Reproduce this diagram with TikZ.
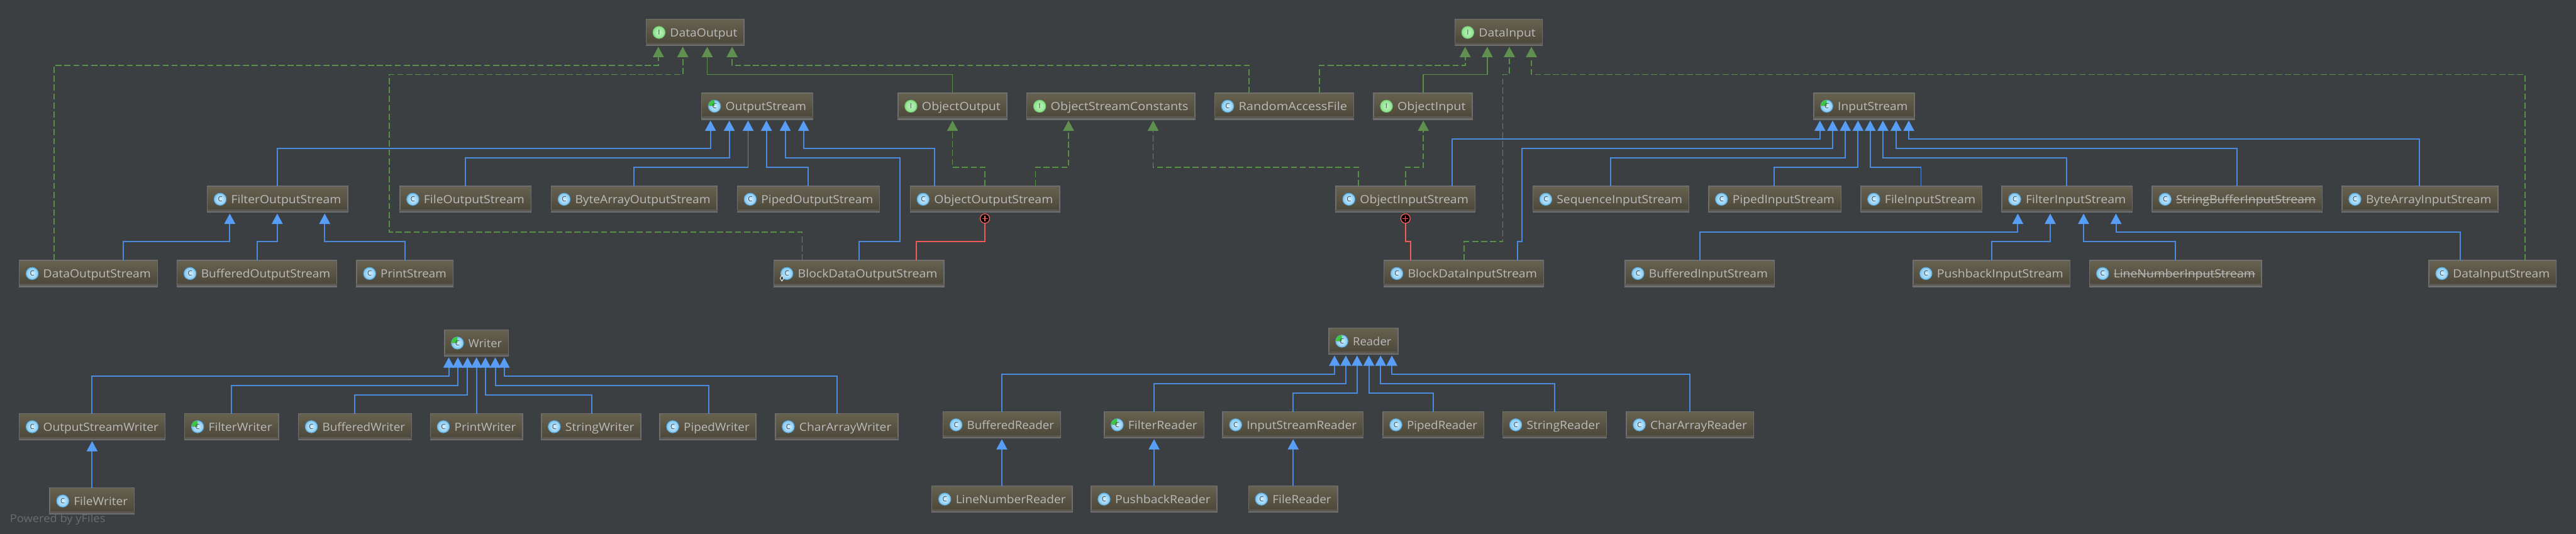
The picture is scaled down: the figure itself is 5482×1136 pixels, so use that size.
\documentclass[tikz,border=0pt]{standalone}
\usepackage{fontspec}
\usepackage{graphicx}
\setmainfont{Open Sans}
\usetikzlibrary{arrows.meta,calc}
\definecolor{bgc}{HTML}{3C3F41}
\definecolor{boxtop}{HTML}{676150}
\definecolor{boxbot}{HTML}{4A4638}
\definecolor{boxedge}{HTML}{6F6F6F}
\definecolor{boxband}{HTML}{5A5850}
\definecolor{labelc}{HTML}{BBBBBB}
\definecolor{lineblue}{HTML}{4A8BDD}
\definecolor{tipblue}{HTML}{589DF6}
\definecolor{linegreen}{HTML}{5A8F48}
\definecolor{tipgreen}{HTML}{5F9050}
\definecolor{linered}{HTML}{F05A5A}
\definecolor{yfilesc}{HTML}{6A6C6E}
\definecolor{icblue}{HTML}{5AAADC}
\definecolor{icbluein}{HTML}{D6F0FD}
\definecolor{icblueout}{HTML}{82C8F2}
\definecolor{icgreen}{HTML}{6EC86E}
\definecolor{icgreenin}{HTML}{BEF5BE}
\definecolor{icgreenout}{HTML}{8CE18C}
\definecolor{icletter}{HTML}{3C4854}
\definecolor{icpie}{HTML}{3CC83C}
\definecolor{icrule}{HTML}{96A5AF}
\tikzset{
  classbox/.style={draw=boxedge,line width=2pt,top color=boxtop,bottom color=boxbot,minimum height=56pt,inner sep=0pt,outer sep=0pt},
  classtext/.style={text=labelc,inner sep=0pt,outer sep=0pt,font=\fontsize{24}{30}\selectfont},
  iconbase/.style={circle,minimum size=26pt,inner sep=0pt,outer sep=0pt,line width=1.4pt},
  iconclass/.style={iconbase,draw=icblue,inner color=icbluein,outer color=icblueout},
  iconiface/.style={iconbase,draw=icgreen,inner color=icgreenin,outer color=icgreenout},
  iconletter/.style={inner sep=0pt,outer sep=0pt,text=icletter,font=\fontsize{15}{18}\selectfont},
  inh/.style={draw=lineblue,line width=2.6pt,shorten >=2.5pt,-{Triangle[length=22pt,width=23pt,fill=tipblue,color=tipblue]}},
  impl/.style={draw=linegreen,line width=2.4pt,shorten >=2.5pt,dash pattern=on 13pt off 6pt,-{Triangle[length=22pt,width=23pt,fill=tipgreen,color=tipgreen]}},
  ext/.style={draw=linegreen,line width=2.4pt,shorten >=2.5pt,-{Triangle[length=22pt,width=23pt,fill=tipgreen,color=tipgreen]}},
  innerlink/.style={draw=linered,line width=2.6pt},
  plusmark/.style={circle,draw=linered,fill=black,line width=1.8pt,minimum size=20pt,inner sep=0pt,outer sep=0pt},
}
% a class box: name, x-left, x-right, y-top, label, kind (C/I/A)
\newcommand{\cls}[6]{%
  \pgfmathsetlengthmacro{\bw}{#3-#2}%
  \pgfmathsetlengthmacro{\tw}{#3-#2-65}%
  \node[classbox,minimum width=\bw,anchor=north west] (#1) at (#2,#4) {};
  \fill[boxband] ([shift={(0,-6)}]#1.south west) rectangle (#1.south east);
  \draw[boxedge,line width=2.4pt] ([shift={(0,-1)}]#1.south west) -- ([shift={(0,-1)}]#1.south east);
  \node[classtext,anchor=base west] (#1-t) at ([shift={(51,37)}]#1.north west) {\resizebox{\tw}{\height}{#5}};
  \csname icon#6\endcsname{#1}%
}
\newcommand{\iconC}[1]{%
  \node[iconclass] (#1-i) at ([shift={(27.5,28)}]#1.north west) {};
  \node[iconletter] at (#1-i.center) {C};
}
\newcommand{\iconI}[1]{%
  \node[iconiface] (#1-i) at ([shift={(27.5,28)}]#1.north west) {};
  \node[iconletter] at (#1-i.center) {I};
}
\newcommand{\iconA}[1]{%
  \node[iconclass] (#1-i) at ([shift={(27.5,28)}]#1.north west) {};
  \fill[icpie] (#1-i.center) -- (#1-i.west) arc[start angle=180,end angle=90,radius=13pt] -- cycle;
  \draw[icrule,line width=1.6pt] (#1-i.west) -- (#1-i.center);
  \node[iconletter] at (#1-i.center) {C};
}
\newcommand{\strike}[1]{\draw[labelc,line width=2pt] ([yshift=8pt]#1-t.base west) -- ([yshift=8pt]#1-t.base east);}
% connectors: style, child, x at child, y of the bend, x at parent, parent
\newcommand{\rt}[6]{\draw[#1] (#2.north -| #3,0) -- (#3,#4) -- (#5,#4) -- (#6.south -| #5,0);}
% connectors with two bends levels: style, child, x, y, x, y, x at parent, parent
\newcommand{\rtt}[8]{\draw[#1] (#2.north -| #3,0) -- (#3,#4) -- (#5,#4) -- (#5,#6) -- (#7,#6) -- (#8.south -| #7,0);}
\newcommand{\vt}[4]{\draw[#1] (#2.north -| #3,0) -- (#4.south -| #3,0);}
\begin{document}
\begin{tikzpicture}[x=1pt,y=-1pt]
\path[use as bounding box,fill=bgc] (0,0) rectangle (5482,1136);
% row 0
\cls{DO}{1375}{1583}{41}{DataOutput}{I}
\cls{DI}{3096}{3282}{41}{DataInput}{I}
% row 1
\cls{OS}{1493}{1730}{198}{OutputStream}{A}
\cls{OO}{1911}{2143}{198}{ObjectOutput}{I}
\cls{OSC}{2185}{2543}{198}{ObjectStreamConstants}{I}
\cls{RAF}{2585}{2881}{198}{RandomAccessFile}{C}
\cls{OI}{2923}{3133}{198}{ObjectInput}{I}
\cls{IS}{3860}{4074}{198}{InputStream}{A}
% row 2
\cls{FOS}{441}{740}{396}{FilterOutputStream}{C}
\cls{FiOS}{851}{1130}{396}{FileOutputStream}{C}
\cls{BAOS}{1173}{1526}{396}{ByteArrayOutputStream}{C}
\cls{POS}{1569}{1872}{396}{PipedOutputStream}{C}
\cls{OOS}{1937}{2255}{396}{ObjectOutputStream}{C}
\cls{OIS}{2843}{3139}{396}{ObjectInputStream}{C}
\cls{SIS}{3262}{3594}{396}{SequenceInputStream}{C}
\cls{PIS}{3636}{3918}{396}{PipedInputStream}{C}
\cls{FiIS}{3960}{4218}{396}{FileInputStream}{C}
\cls{FIS}{4260}{4538}{396}{FilterInputStream}{C}
\cls{SBIS}{4580}{4942}{396}{StringBufferInputStream}{C}
\cls{BAIS}{4984}{5316}{396}{ByteArrayInputStream}{C}
% row 3
\cls{DOS}{41}{335}{554}{DataOutputStream}{C}
\cls{BOS}{377}{717}{554}{BufferedOutputStream}{C}
\cls{PS}{759}{964}{554}{PrintStream}{C}
\cls{BDOS}{1647}{2009}{554}{BlockDataOutputStream}{C}
\cls{BDIS}{2945}{3285}{554}{BlockDataInputStream}{C}
\cls{BIS}{3458}{3776}{554}{BufferedInputStream}{C}
\cls{PbIS}{4071}{4405}{554}{PushbackInputStream}{C}
\cls{LNIS}{4447}{4813}{554}{LineNumberInputStream}{C}
\cls{DIS}{5169}{5440}{554}{DataInputStream}{C}
\strike{SBIS}
\strike{LNIS}
\draw[white,line width=1.2pt,fill=bgc] (1664,586) -- (1668,592) -- (1664,598) -- (1660,592) -- cycle;
% writers
\cls{W}{946}{1082}{702}{Writer}{A}
\cls{OSW}{41}{351}{880}{OutputStreamWriter}{C}
\cls{FW}{393}{593}{880}{FilterWriter}{A}
\cls{BW}{635}{876}{880}{BufferedWriter}{C}
\cls{PW}{916}{1112}{880}{PrintWriter}{C}
\cls{SW}{1152}{1364}{880}{StringWriter}{C}
\cls{PiW}{1404}{1609}{880}{PipedWriter}{C}
\cls{CAW}{1650}{1911}{880}{CharArrayWriter}{C}
\cls{FiW}{106}{286}{1038}{FileWriter}{C}
% readers
\cls{R}{2828}{2975}{698}{Reader}{A}
\cls{BR}{2007}{2257}{876}{BufferedReader}{C}
\cls{FR}{2350}{2562}{876}{FilterReader}{A}
\cls{ISR}{2602}{2901}{876}{InputStreamReader}{C}
\cls{PiR}{2943}{3158}{876}{PipedReader}{C}
\cls{SR}{3198}{3419}{876}{StringReader}{C}
\cls{CAR}{3461}{3732}{876}{CharArrayReader}{C}
\cls{LNR}{1983}{2282}{1034}{LineNumberReader}{C}
\cls{PbR}{2322}{2590}{1034}{PushbackReader}{C}
\cls{FiR}{2657}{2847}{1034}{FileReader}{C}
% inner class markers
\node[plusmark] (OOSp) at (2096,465) {};
\draw[linered,line width=1.6pt] ([yshift=6pt]OOSp.center) -- ([yshift=-6pt]OOSp.center) ([xshift=-6pt]OOSp.center) -- ([xshift=6pt]OOSp.center);
\node[plusmark] (OISp) at (2991,465) {};
\draw[linered,line width=1.6pt] ([yshift=6pt]OISp.center) -- ([yshift=-6pt]OISp.center) ([xshift=-6pt]OISp.center) -- ([xshift=6pt]OISp.center);
% DataOutput
\rt{impl}{DOS}{115}{139}{1401}{DO}
\rtt{impl}{BDOS}{1707}{494}{828}{158.5}{1453}{DO}
\rt{ext}{OO}{2027}{158.5}{1505}{DO}
\rt{impl}{RAF}{2658}{139}{1558}{DO}
% OutputStream
\rt{inh}{FOS}{590}{316}{1512}{OS}
\rt{inh}{FiOS}{990}{336}{1552}{OS}
\rt{inh}{BAOS}{1349}{356}{1592}{OS}
\rt{inh}{POS}{1720}{356}{1631}{OS}
\rtt{inh}{BDOS}{1828}{514}{1915}{336}{1671}{OS}
\rt{inh}{OOS}{1989}{316}{1710}{OS}
% FilterOutputStream
\rt{inh}{DOS}{262}{514}{489}{FOS}
\rt{inh}{BOS}{547}{514}{590}{FOS}
\rt{inh}{PS}{862}{514}{691}{FOS}
% ObjectOutput, ObjectStreamConstants
\rt{impl}{OOS}{2096}{356}{2027}{OO}
\rt{impl}{OOS}{2203.5}{356}{2274}{OSC}
\rt{impl}{OIS}{2891}{356}{2454}{OSC}
% inner links
\draw[innerlink] (BDOS.north -| 1950,0) -- (1950,514) -- (2096,514) -- (OOSp.south);
\draw[innerlink] (BDIS.north -| 3002,0) -- (3002,514) -- (2991,514) -- (OISp.south);
% DataInput
\rt{impl}{RAF}{2808}{139}{3118}{DI}
\rt{ext}{OI}{3029}{158.5}{3165}{DI}
\rtt{impl}{BDIS}{3116}{514}{3198}{158.5}{3212}{DI}
\rt{impl}{DIS}{5373}{158.5}{3259}{DI}
\rt{impl}{OIS}{2991}{356}{3029}{OI}
% InputStream
\rt{inh}{OIS}{3090}{296}{3873}{IS}
\rtt{inh}{BDIS}{3229}{514}{3239}{316}{3900}{IS}
\rt{inh}{SIS}{3427}{336}{3927}{IS}
\rt{inh}{PIS}{3776}{356}{3954}{IS}
\rt{inh}{FiIS}{4088}{356}{3980}{IS}
\rt{inh}{FIS}{4398}{336}{4007}{IS}
\rt{inh}{SBIS}{4761}{316}{4035}{IS}
\rt{inh}{BAIS}{5149}{296}{4062}{IS}
% FilterInputStream
\rt{inh}{BIS}{3617}{494}{4294}{FIS}
\rt{inh}{PbIS}{4238}{514}{4363}{FIS}
\rt{inh}{LNIS}{4630}{514}{4434}{FIS}
\rt{inh}{DIS}{5236}{494}{4503}{FIS}
% Writer
\rt{inh}{OSW}{196}{800}{955}{W}
\rt{inh}{FW}{493}{820}{974.5}{W}
\rt{inh}{BW}{755}{840}{995}{W}
\vt{inh}{PW}{1014}{W}
\rt{inh}{SW}{1259}{840}{1033}{W}
\rt{inh}{PiW}{1508}{820}{1054}{W}
\rt{inh}{CAW}{1781}{800}{1073}{W}
\vt{inh}{FiW}{196}{OSW}
% Reader
\rt{inh}{BR}{2132}{796}{2840}{R}
\rt{inh}{FR}{2456}{816}{2864}{R}
\rt{inh}{ISR}{2752}{837}{2888}{R}
\rt{inh}{PiR}{3050.5}{837}{2913}{R}
\rt{inh}{SR}{3309}{816}{2938}{R}
\rt{inh}{CAR}{3596}{796}{2962}{R}
\vt{inh}{LNR}{2132}{BR}
\vt{inh}{PbR}{2456}{FR}
\vt{inh}{FiR}{2752}{ISR}
% watermark
\node[inner sep=0pt,anchor=base west,text=yfilesc,font=\fontsize{23}{28}\selectfont] (yf) at (21,1112) {\resizebox{203pt}{\height}{Powered by yFiles}};
\end{tikzpicture}
\end{document}
